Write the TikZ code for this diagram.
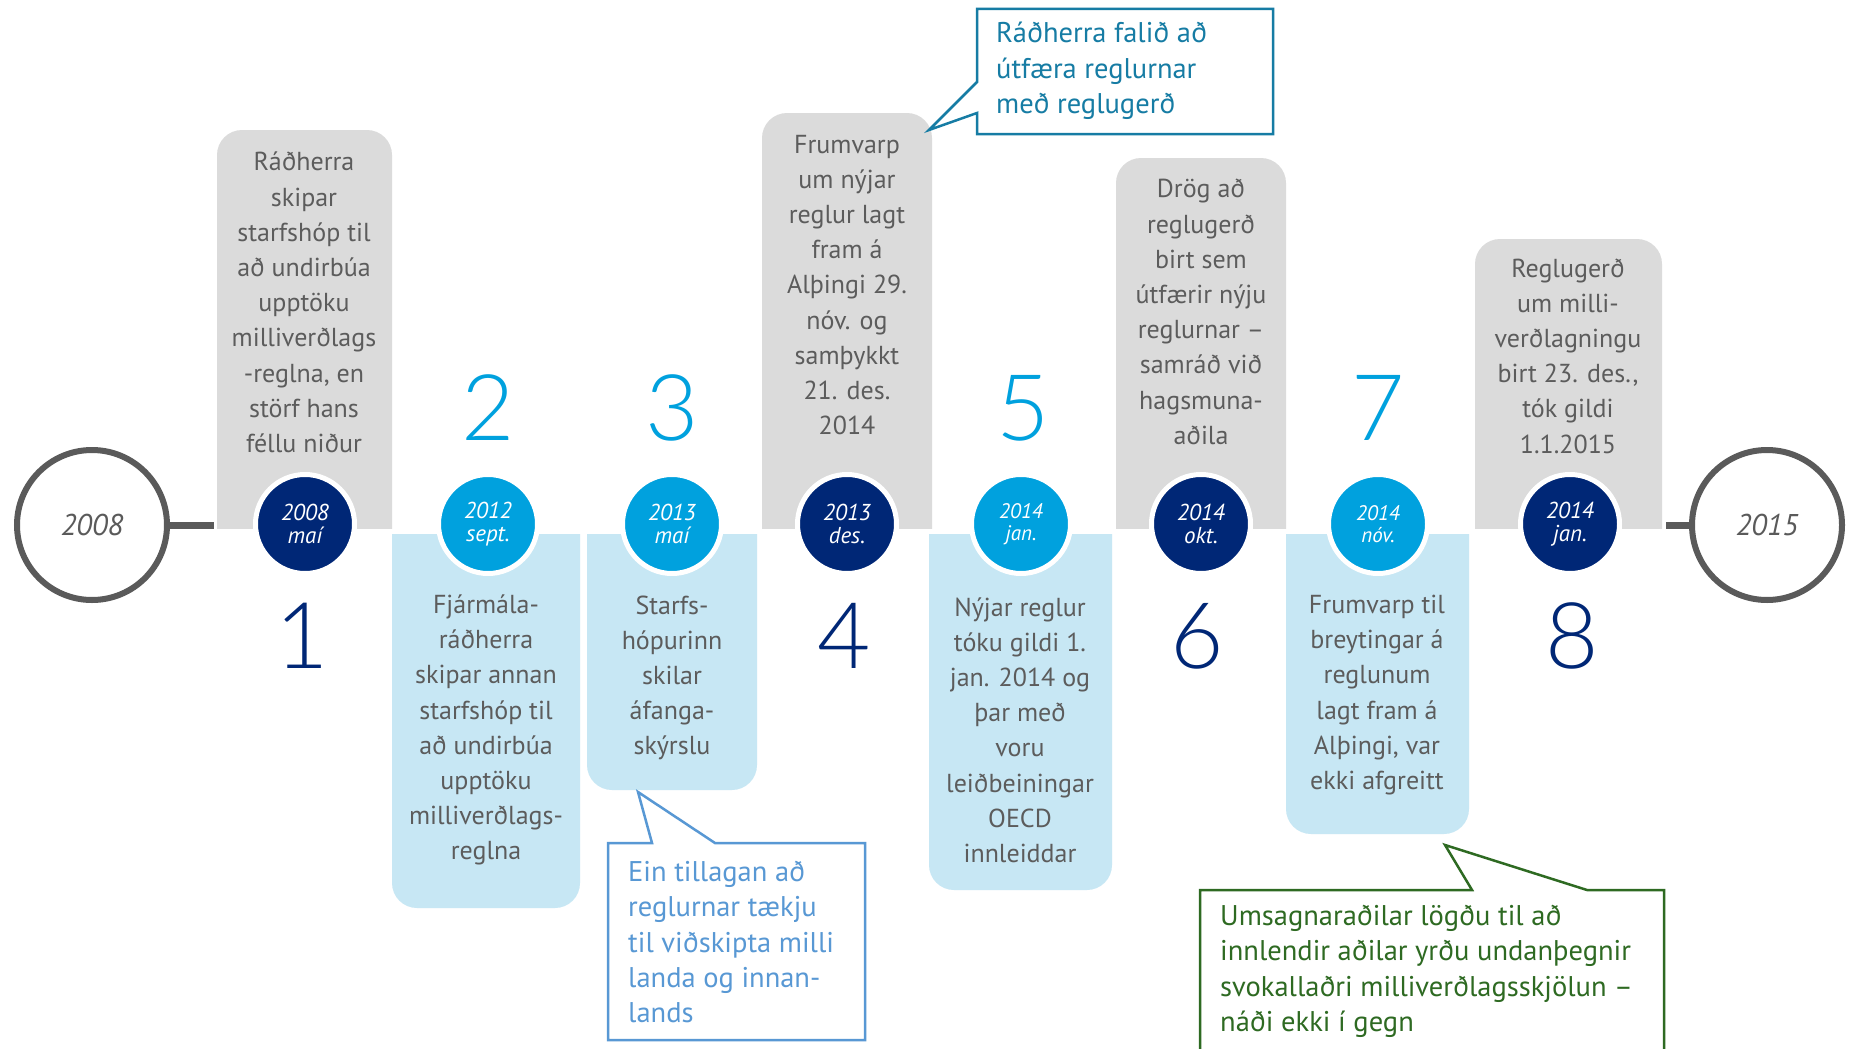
\documentclass[tikz,border=0pt]{standalone}
\usepackage{fontspec}
\setmainfont{PT Sans}
\newfontfamily\numfont{Lato Light}
\definecolor{navy}{RGB}{0,39,118}
\definecolor{cyanblue}{RGB}{0,161,222}
\definecolor{boxgray}{RGB}{219,219,219}
\definecolor{boxblue}{RGB}{199,231,244}
\definecolor{txtgray}{RGB}{92,92,92}
\definecolor{ringgray}{RGB}{90,90,90}
\definecolor{teal}{RGB}{22,124,164}
\definecolor{callblue}{RGB}{88,152,212}
\definecolor{callgreen}{RGB}{46,106,34}
\tikzset{
  boxtext/.style={align=center, inner sep=0pt, text=txtgray,
    font=\fontsize{26}{35.2}\selectfont},
  calltext/.style={align=left, inner sep=0pt, anchor=west,
    font=\fontsize{28.5}{35.4}\selectfont},
  datedark/.style={circle, fill=navy, draw=white, line width=5pt,
    minimum size=99pt, inner sep=0pt, text=white, align=center,
    font=\fontsize{23}{23}\selectfont\itshape},
  datelight/.style={datedark, fill=cyanblue},
  smalldate/.style={font=\fontsize{21}{22}\selectfont\itshape},
  bignum/.style={inner sep=0pt, font=\fontsize{92}{92}\numfont},
  yearring/.style={circle, draw=ringgray, line width=6pt, minimum size=150pt,
    inner sep=0pt, text=ringgray, font=\fontsize{30}{30}\selectfont\itshape},
  linkline/.style={draw=ringgray, line width=7pt},
}
% upper card with rounded top corners: #1 left, #2 right, #3 top
\newcommand{\uppercard}[3]{%
  \begin{scope}
    \clip (#1,0) rectangle (#2,528);
    \fill[boxgray, rounded corners=25pt] (#1,#3) rectangle (#2,600);
  \end{scope}}
% lower card with rounded bottom corners: #1 left, #2 right, #3 bottom
\newcommand{\lowercard}[3]{%
  \begin{scope}
    \clip (#1,534) rectangle (#2,1049);
    \fill[boxblue, rounded corners=25pt] (#1,480) rectangle (#2,#3);
  \end{scope}}
\begin{document}
\begin{tikzpicture}[x=1pt,y=-1pt]
\useasboundingbox (0,0) rectangle (1853,1049);
\fill[white] (0,0) rectangle (1853,1049);

% cards
\uppercard{217}{392}{130}
\lowercard{392}{580}{908}
\lowercard{587}{757}{790}
\uppercard{762}{932}{113}
\lowercard{929}{1112}{890}
\uppercard{1116}{1286}{158}
\lowercard{1286}{1469}{834}
\uppercard{1475}{1662}{239}

% year rings and links
\node[yearring] (y2008) at (92,525) {2008};
\node[yearring] (y2015) at (1767,525) {2015};
\coordinate (c1left) at (214,525);
\coordinate (c8right) at (1666,525);
\path[linkline] (y2008.east) -- (c1left);
\path[linkline] (c8right) -- (y2015.west);

% date circles
\node[datedark]  (d1) at (305,524)  {2008\\maí};
\node[datelight] (d2) at (488,524)  {2012\\sept.};
\node[datelight] (d3) at (672,524)  {2013\\maí};
\node[datedark]  (d4) at (847,524)  {2013\\des.};
\node[datelight, smalldate] (d5) at (1021,524) {2014\\jan.};
\node[datedark]  (d6) at (1201,524) {2014\\okt.};
\node[datelight, smalldate] (d7) at (1378,524) {2014\\nóv.};
\node[datedark]  (d8) at (1570,524) {2014\\jan.};

% step numbers
\node[bignum, text=navy]     (n1) at (302,636) {1};
\node[bignum, text=cyanblue] (n2) at (488,408) {2};
\node[bignum, text=cyanblue] (n3) at (672,408) {3};
\node[bignum, text=navy]     (n4) at (844,636) {4};
\node[bignum, text=cyanblue] (n5) at (1023,408) {5};
\node[bignum, text=navy]     (n6) at (1197,636) {6};
\node[bignum, text=cyanblue] (n7) at (1378,408) {7};
\node[bignum, text=navy]     (n8) at (1572,636) {8};

% card texts
\node[boxtext] (t1) at (304,302.5) {Ráðherra\\skipar\\starfshóp til\\að undirbúa\\upptöku\\milliverðlags\\-reglna, en\\störf hans\\féllu niður};
\node[boxtext] (t2) at (486,730) {Fjármála-\\ráðherra\\skipar annan\\starfshóp til\\að undirbúa\\upptöku\\milliverðlags-\\reglna};
\node[boxtext] (t3) at (672,678) {Starfs-\\hópurinn\\skilar\\áfanga-\\skýrslu};
\node[boxtext] (t4) at (847,285) {Frumvarp\\um nýjar\\reglur lagt\\fram á\\Alþingi 29.\\nóv. og\\samþykkt\\21. des.\\2014};
\node[boxtext] (t5) at (1020,730) {Nýjar reglur\\tóku gildi 1.\\jan. 2014 og\\þar með\\voru\\leiðbeiningar\\OECD\\innleiddar};
\node[boxtext] (t6) at (1201,312) {Drög að\\reglugerð\\birt sem\\útfærir nýju\\reglurnar –\\samráð við\\hagsmuna-\\aðila};
\node[boxtext] (t7) at (1377,695) {Frumvarp til\\breytingar á\\reglunum\\lagt fram á\\Alþingi, var\\ekki afgreitt};
\node[boxtext] (t8) at (1568,356) {Reglugerð\\um milli-\\verðlagningu\\birt 23. des.,\\tók gildi\\1.1.2015};

% callout: ministry
\filldraw[draw=teal, fill=white, line width=2.5pt, line join=miter]
  (977,9) -- (1273,9) -- (1273,134) -- (977,134) -- (977,113)
  -- (929,130) -- (977,82) -- cycle;
\node[calltext, text=teal] (k1) at (996,71) {Ráðherra falið að\\útfæra reglurnar\\með reglugerð};

% callout: proposal
\filldraw[draw=callblue, fill=white, line width=2.5pt, line join=miter]
  (608,843) -- (652,843) -- (638,792) -- (715,843) -- (865,843)
  -- (865,1040) -- (608,1040) -- cycle;
\node[calltext, text=callblue] (k2) at (628,942) {Ein tillagan að\\reglurnar tækju\\til viðskipta milli\\landa og innan-\\lands};

% callout: stakeholders
\filldraw[draw=callgreen, fill=white, line width=2.5pt, line join=miter]
  (1200,890) -- (1472,890) -- (1445,845) -- (1587,890) -- (1664,890)
  -- (1664,1060) -- (1200,1060) -- cycle;
\node[calltext, text=callgreen] (k3) at (1220,971.5) {Umsagnaraðilar lögðu til að\\innlendir aðilar yrðu undanþegnir\\svokallaðri milliverðlagsskjölun –\\náði ekki í gegn};
\end{tikzpicture}
\end{document}
